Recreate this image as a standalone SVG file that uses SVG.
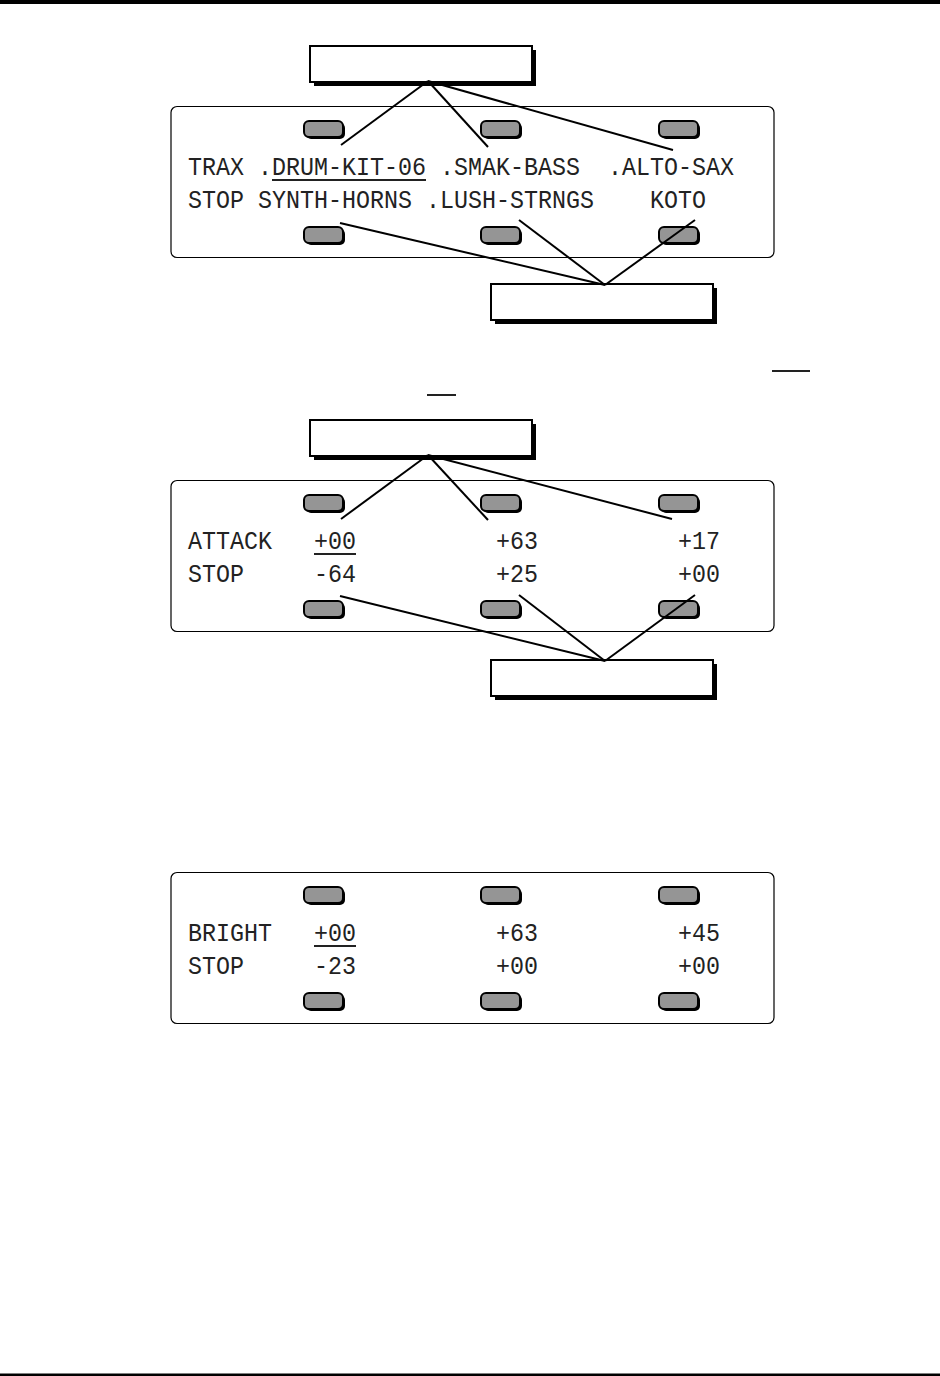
<svg xmlns="http://www.w3.org/2000/svg" width="940" height="1376" viewBox="0 0 940 1376">
<style>
.panel{fill:#fff;stroke:#000;stroke-width:1.2}
.lbl{fill:#fff;stroke:#000;stroke-width:2}
.shd{fill:#000}
.btn{fill:#959595;stroke:#000;stroke-width:2}
.bsh{fill:#000}
.t{font-family:"Liberation Mono","DejaVu Sans Mono",monospace;font-size:23.33px;fill:#222}
.ul{stroke:#222;stroke-width:2}
.c{stroke:#000;stroke-width:2;fill:none}
</style>
<defs>
<g id="button">
<rect class="bsh" x="2" y="2" width="39" height="16" rx="5"/>
<rect class="btn" x="0" y="0" width="39" height="16" rx="5"/>
</g>
<g id="label">
<rect class="shd" x="4" y="4" width="222" height="36"/>
<rect class="lbl" x="0" y="0" width="222" height="36"/>
</g>
</defs>
<rect x="0" y="0" width="940" height="4" fill="#000"/>
<rect x="0" y="1373.5" width="940" height="2.5" fill="#000"/>

<g id="panel1">
<rect class="panel" x="171" y="106.5" width="603" height="151" rx="6"/>
<use href="#button" x="304" y="121"/>
<use href="#button" x="481" y="121"/>
<use href="#button" x="659" y="121"/>
<use href="#button" x="304" y="227"/>
<use href="#button" x="481" y="227"/>
<use href="#button" x="659" y="227"/>
<g transform="translate(0,175) scale(1,1.1)">
<text class="t" x="188" y="0">TRAX</text>
<text class="t" x="258" y="0">.DRUM-KIT-06</text>
<text class="t" x="440" y="0">.SMAK-BASS</text>
<text class="t" x="608" y="0">.ALTO-SAX</text>
</g>
<line class="ul" x1="272" y1="180" x2="426" y2="180"/>
<g transform="translate(0,208) scale(1,1.1)">
<text class="t" x="188" y="0">STOP</text>
<text class="t" x="258" y="0">SYNTH-HORNS</text>
<text class="t" x="426" y="0">.LUSH-STRNGS</text>
<text class="t" x="650" y="0">KOTO</text>
</g>
</g>

<g id="panel2">
<rect class="panel" x="171" y="480.5" width="603" height="151" rx="6"/>
<use href="#button" x="304" y="495"/>
<use href="#button" x="481" y="495"/>
<use href="#button" x="659" y="495"/>
<use href="#button" x="304" y="601"/>
<use href="#button" x="481" y="601"/>
<use href="#button" x="659" y="601"/>
<g transform="translate(0,549) scale(1,1.1)">
<text class="t" x="188" y="0">ATTACK</text>
<text class="t" x="314" y="0">+00</text>
<text class="t" x="496" y="0">+63</text>
<text class="t" x="678" y="0">+17</text>
</g>
<line class="ul" x1="314" y1="554" x2="356" y2="554"/>
<g transform="translate(0,582) scale(1,1.1)">
<text class="t" x="188" y="0">STOP</text>
<text class="t" x="314" y="0">-64</text>
<text class="t" x="496" y="0">+25</text>
<text class="t" x="678" y="0">+00</text>
</g>
</g>

<g id="panel3">
<rect class="panel" x="171" y="872.5" width="603" height="151" rx="6"/>
<use href="#button" x="304" y="887"/>
<use href="#button" x="481" y="887"/>
<use href="#button" x="659" y="887"/>
<use href="#button" x="304" y="993"/>
<use href="#button" x="481" y="993"/>
<use href="#button" x="659" y="993"/>
<g transform="translate(0,941) scale(1,1.1)">
<text class="t" x="188" y="0">BRIGHT</text>
<text class="t" x="314" y="0">+00</text>
<text class="t" x="496" y="0">+63</text>
<text class="t" x="678" y="0">+45</text>
</g>
<line class="ul" x1="314" y1="946" x2="356" y2="946"/>
<g transform="translate(0,974) scale(1,1.1)">
<text class="t" x="188" y="0">STOP</text>
<text class="t" x="314" y="0">-23</text>
<text class="t" x="496" y="0">+00</text>
<text class="t" x="678" y="0">+00</text>
</g>
</g>

<g id="label1"><use href="#label" x="310" y="46"/></g>
<g id="label2"><use href="#label" x="491" y="284"/></g>
<g id="label3"><use href="#label" x="310" y="420"/></g>
<g id="label4"><use href="#label" x="491" y="660"/></g>

<g id="marks">
<line class="ul" x1="772" y1="371" x2="810" y2="371"/>
<line class="ul" x1="427" y1="395" x2="456" y2="395"/>
</g>

<g id="connectors">
<line class="c" x1="428" y1="81" x2="341" y2="145"/>
<line class="c" x1="428" y1="81" x2="488" y2="147"/>
<line class="c" x1="428" y1="81" x2="673" y2="150"/>
<line class="c" x1="340" y1="223" x2="605" y2="285"/>
<line class="c" x1="519" y1="220" x2="605" y2="285"/>
<line class="c" x1="695" y1="220" x2="605" y2="285"/>
<line class="c" x1="428" y1="455" x2="341" y2="519"/>
<line class="c" x1="428" y1="455" x2="488" y2="520"/>
<line class="c" x1="428" y1="455" x2="672" y2="519"/>
<line class="c" x1="340" y1="596" x2="605" y2="661"/>
<line class="c" x1="519" y1="595" x2="605" y2="661"/>
<line class="c" x1="695" y1="595" x2="605" y2="661"/>
</g>
</svg>
